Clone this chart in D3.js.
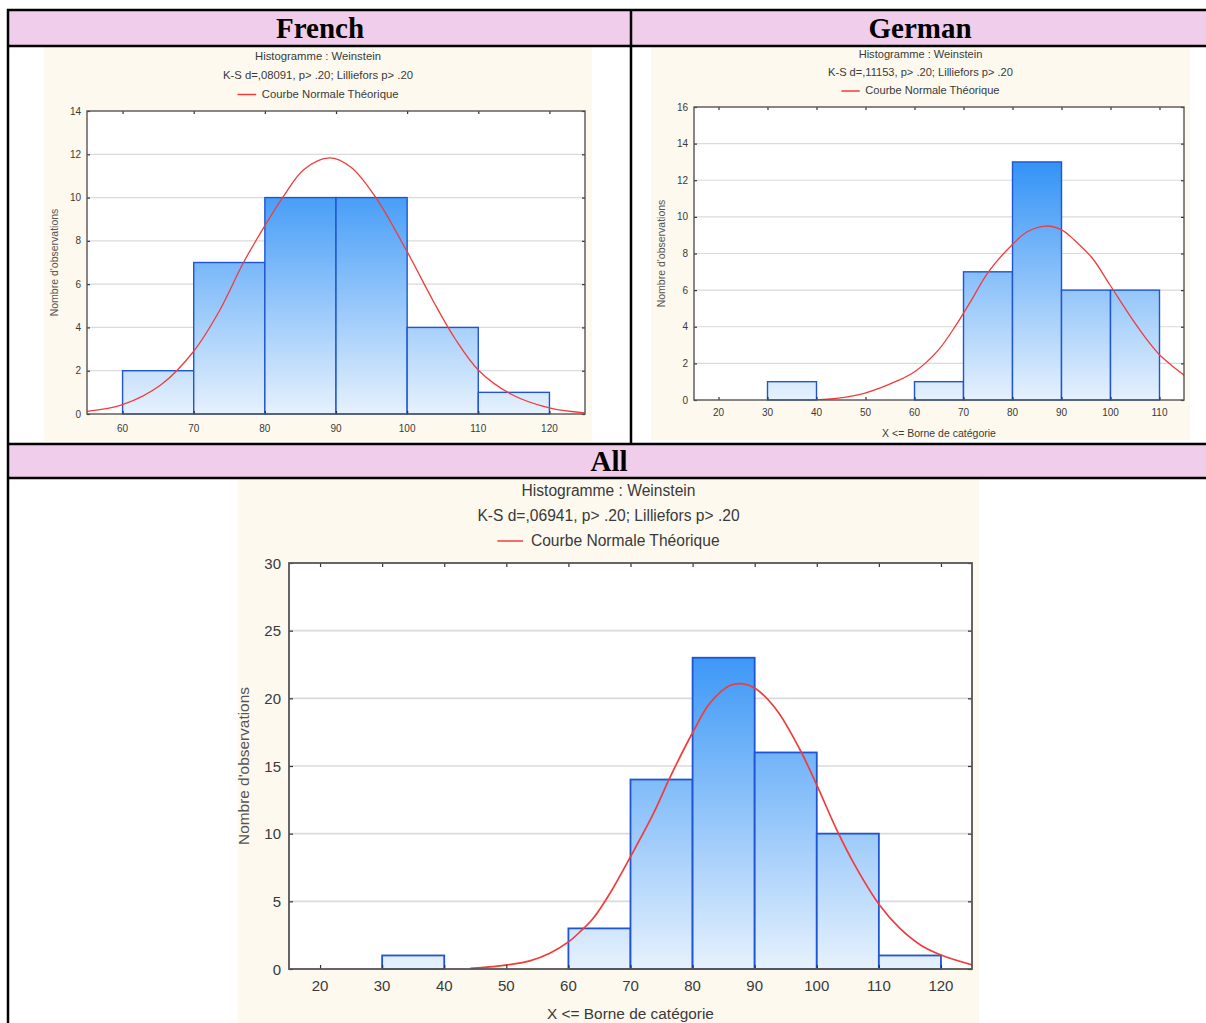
<!DOCTYPE html>
<html><head><meta charset="utf-8">
<script src="https://cdn.jsdelivr.net/npm/d3@7"></script>
<style>html,body{margin:0;padding:0;background:#fff;} svg{display:block}</style>
</head><body>
<script>
// ---------------- DATA ----------------
const binWidth = 10;
const headerLabels = ["French", "German", "All"];
const chartTitle = "Histogramme : Weinstein";
const legendLabel = "Courbe Normale Théorique";
const yAxisLabel = "Nombre d'observations";
const xAxisLabel = "X <= Borne de catégorie";

const frenchKS = "K-S d=,08091, p> .20; Lilliefors p> .20";
const frenchBins = [60, 70, 80, 90, 100, 110];
const frenchCounts = [2, 7, 10, 10, 4, 1];
const frenchXTicks = [60, 70, 80, 90, 100, 110, 120];
const frenchYTicks = [0, 2, 4, 6, 8, 10, 12, 14];
const frenchCurveX = [55, 60, 65.4, 70, 73.5, 77, 80, 82.5, 85.5, 89.1, 92.1, 95.6, 100, 103.7, 106.7, 110.1, 114.7, 120, 125];
const frenchCurveY = [0.12, 0.43, 1.35, 2.9, 4.7, 7.0, 8.7, 10.0, 11.3, 11.83, 11.4, 10.0, 7.5, 5.2, 3.5, 2.0, 0.9, 0.28, 0.05];

const germanKS = "K-S d=,11153, p> .20; Lilliefors p> .20";
const germanBins = [30, 60, 70, 80, 90, 100];
const germanCounts = [1, 1, 7, 13, 6, 6];
const germanXTicks = [20, 30, 40, 50, 60, 70, 80, 90, 100, 110];
const germanYTicks = [0, 2, 4, 6, 8, 10, 12, 14, 16];
const germanCurveX = [39, 44.5, 49.9, 56.1, 60.1, 64.9, 68.5, 71.5, 75.1, 80.2, 83.1, 86.8, 90.1, 92.6, 96.3, 99.9, 104.3, 107.2, 110, 112.3, 115.1];
const germanCurveY = [0, 0.1, 0.38, 1.0, 1.56, 2.74, 4.1, 5.4, 7.0, 8.55, 9.2, 9.5, 9.28, 8.74, 7.74, 6.28, 4.47, 3.38, 2.47, 1.93, 1.34];

const allKS = "K-S d=,06941, p> .20; Lilliefors p> .20";
const allBins = [30, 60, 70, 80, 90, 100, 110];
const allCounts = [1, 3, 14, 23, 16, 10, 1];
const allXTicks = [20, 30, 40, 50, 60, 70, 80, 90, 100, 110, 120];
const allYTicks = [0, 5, 10, 15, 20, 25, 30];
const allCurveX = [44.2, 47.9, 50.1, 53.8, 57, 60, 61.9, 64, 66.7, 70, 73.7, 76.4, 80.1, 82.8, 86.0, 87.9, 90.0, 93.5, 97.3, 100.1, 103.2, 106.4, 110.1, 113.4, 116.7, 120, 125.1];
const allCurveY = [0.05, 0.17, 0.3, 0.6, 1.16, 2.0, 2.76, 3.75, 5.6, 8.3, 11.5, 14.2, 17.55, 19.65, 20.95, 21.08, 20.76, 19.16, 16.2, 13.5, 10.3, 7.45, 4.73, 3.0, 1.78, 1.04, 0.3];

// ---------------- LAYOUT ----------------
const W = 1206, H = 1023;
const svg = d3.select("body").append("svg").attr("width", W).attr("height", H);
const defs = svg.append("defs");

const pink = "#f0cdea";
svg.append("rect").attr("x", 8).attr("y", 10).attr("width", W).attr("height", 36).attr("fill", pink);
svg.append("rect").attr("x", 8).attr("y", 444).attr("width", W).attr("height", 34).attr("fill", pink);

const cream = "#fdf9ee";
const imgs = [
  {x: 44, y: 47, w: 548, h: 394},
  {x: 651, y: 47, w: 539, h: 393},
  {x: 238, y: 479, w: 741, h: 544}
];
imgs.forEach(r => svg.append("rect").attr("x", r.x).attr("y", r.y).attr("width", r.w).attr("height", r.h).attr("fill", cream));

const lines = [
  [7, 10, W, 10], [8, 9, 8, H], [8, 46, W, 46], [631, 10, 631, 444],
  [8, 444, W, 444], [8, 478, W, 478]
];
lines.forEach(l => svg.append("line").attr("x1", l[0]).attr("y1", l[1]).attr("x2", l[2]).attr("y2", l[3])
  .attr("stroke", "#000").attr("stroke-width", 2.5));

const hdrFont = "'Liberation Serif','Times New Roman',serif";
[[320, 38, headerLabels[0]], [920, 38, headerLabels[1]], [609, 471, headerLabels[2]]].forEach(h => {
  svg.append("text").attr("x", h[0]).attr("y", h[1]).attr("text-anchor", "middle")
    .attr("font-family", hdrFont).attr("font-weight", "bold").attr("font-size", 29).attr("fill", "#000").text(h[2]);
});

const sans = "'Liberation Sans',Arial,sans-serif";

function drawChart(c) {
  const g = svg.append("g");
  const x = d3.scaleLinear().domain(c.xDomain).range([c.plot.x0, c.plot.x1]);
  const y = d3.scaleLinear().domain(c.yDomain).range([c.plot.y1, c.plot.y0]);
  const pw = c.plot.x1 - c.plot.x0, ph = c.plot.y1 - c.plot.y0;
  const cx = c.img.x + c.img.w / 2;

  g.append("text").attr("x", cx).attr("y", c.titleY).attr("text-anchor", "middle").attr("dominant-baseline", "central")
    .attr("font-family", sans).attr("font-size", c.fs).attr("fill", "#3a3a3a").text(chartTitle);
  g.append("text").attr("x", cx).attr("y", c.ksY).attr("text-anchor", "middle").attr("dominant-baseline", "central")
    .attr("font-family", sans).attr("font-size", c.fs).attr("fill", "#3a3a3a").text(c.ks);
  const lt = g.append("text").attr("y", c.legY).attr("dominant-baseline", "central")
    .attr("font-family", sans).attr("font-size", c.fs).attr("fill", "#3a3a3a").text(legendLabel);
  const tw = lt.node().getComputedTextLength();
  const lineLen = c.fs * 1.65, gap = c.fs * 0.5;
  const start = cx - (lineLen + gap + tw) / 2;
  lt.attr("x", start + lineLen + gap);
  g.append("line").attr("x1", start).attr("x2", start + lineLen).attr("y1", c.legY + 1).attr("y2", c.legY + 1)
    .attr("stroke", "#f03c3c").attr("stroke-width", 1.5);

  g.append("rect").attr("x", c.plot.x0).attr("y", c.plot.y0).attr("width", pw).attr("height", ph).attr("fill", "#fff");

  g.append("g").selectAll("line").data(c.yTicks.filter(v => v > c.yDomain[0] && v < c.yDomain[1])).join("line")
    .attr("x1", c.plot.x0).attr("x2", c.plot.x1).attr("y1", d => y(d)).attr("y2", d => y(d))
    .attr("stroke", "#dadada").attr("stroke-width", c.fs > 13 ? 1.6 : 1.2);

  const gid = "grad" + c.id;
  const grad = defs.append("linearGradient").attr("id", gid).attr("gradientUnits", "userSpaceOnUse")
    .attr("x1", 0).attr("x2", 0).attr("y1", c.plot.y1).attr("y2", c.plot.y0);
  grad.append("stop").attr("offset", 0).attr("stop-color", "#e6f1fd");
  grad.append("stop").attr("offset", 1).attr("stop-color", "#0a7df5");

  g.append("g").selectAll("rect").data(c.bins.map((b, i) => ({b, n: c.counts[i]}))).join("rect")
    .attr("x", d => x(d.b)).attr("width", d => x(d.b + binWidth) - x(d.b))
    .attr("y", d => y(d.n)).attr("height", d => y(0) - y(d.n))
    .attr("fill", `url(#${gid})`).attr("stroke", "#1f55d2").attr("stroke-width", c.fs > 13 ? 1.8 : 1.4);

  const clipId = "clip" + c.id;
  defs.append("clipPath").attr("id", clipId).append("rect")
    .attr("x", c.plot.x0).attr("y", c.plot.y0 - 2).attr("width", pw).attr("height", ph + 2);
  const pts = c.cx.map((v, i) => [v, c.cy[i]]);
  g.append("path").datum(pts).attr("clip-path", `url(#${clipId})`)
    .attr("d", d3.line().x(d => x(d[0])).y(d => y(d[1])).curve(d3.curveCatmullRom.alpha(0.5)))
    .attr("fill", "none").attr("stroke", "#f03c3c").attr("stroke-width", c.fs > 13 ? 1.7 : 1.3);

  const tk = c.fs > 13 ? 4 : 3;
  const tickCol = "#333";
  const ax = (axis, tx, ty) => {
    const a = g.append("g").attr("transform", `translate(${tx},${ty})`).call(axis);
    a.select(".domain").remove();
    a.selectAll("line").attr("stroke", tickCol).attr("stroke-width", 1.2);
    return a;
  };
  const bottom = ax(d3.axisBottom(x).tickValues(c.xTicks).tickSize(-tk).tickSizeOuter(0).tickPadding(0), 0, c.plot.y1);
  bottom.selectAll("text").remove();
  ax(d3.axisTop(x).tickValues(c.xTicks).tickSize(-tk).tickSizeOuter(0).tickFormat(""), 0, c.plot.y0);
  ax(d3.axisLeft(y).tickValues(c.yTicks).tickSize(-tk).tickSizeOuter(0).tickFormat(""), c.plot.x0, 0);
  ax(d3.axisRight(y).tickValues(c.yTicks).tickSize(-tk).tickSizeOuter(0).tickFormat(""), c.plot.x1, 0);

  g.append("g").selectAll("text").data(c.xTicks).join("text")
    .attr("x", d => x(d)).attr("y", c.plot.y1 + c.xLabOff).attr("text-anchor", "middle").attr("dominant-baseline", "central")
    .attr("font-family", sans).attr("font-size", c.tfs).attr("fill", "#3a3a3a").text(d => d);
  g.append("g").selectAll("text").data(c.yTicks).join("text")
    .attr("x", c.plot.x0 - c.yLabOff).attr("y", d => y(d)).attr("text-anchor", "end").attr("dominant-baseline", "central")
    .attr("font-family", sans).attr("font-size", c.tfs).attr("fill", "#3a3a3a").text(d => d);

  g.append("rect").attr("x", c.plot.x0).attr("y", c.plot.y0).attr("width", pw).attr("height", ph)
    .attr("fill", "none").attr("stroke", "#555").attr("stroke-width", c.fs > 13 ? 1.8 : 1.4);

  g.append("text").attr("transform", `translate(${c.yTitleX},${(c.plot.y0 + c.plot.y1) / 2}) rotate(-90)`)
    .attr("text-anchor", "middle").attr("dominant-baseline", "central")
    .attr("font-family", sans).attr("font-size", c.afs).attr("fill", "#555").text(yAxisLabel);
  if (c.xTitleY) {
    g.append("text").attr("x", (c.plot.x0 + c.plot.x1) / 2).attr("y", c.xTitleY)
      .attr("text-anchor", "middle").attr("dominant-baseline", "central")
      .attr("font-family", sans).attr("font-size", c.afs).attr("fill", "#3a3a3a").text(xAxisLabel);
  }
}

drawChart({
  id: "fr", img: imgs[0], plot: {x0: 87, x1: 585, y0: 111, y1: 414},
  xDomain: [55, 125], yDomain: [0, 14], xTicks: frenchXTicks, yTicks: frenchYTicks,
  bins: frenchBins, counts: frenchCounts, cx: frenchCurveX, cy: frenchCurveY, ks: frenchKS,
  fs: 11.3, tfs: 10, afs: 10.5, titleY: 56, ksY: 75, legY: 93.5,
  xLabOff: 14, yLabOff: 6, yTitleX: 53.5, xTitleY: null
});
drawChart({
  id: "de", img: imgs[1], plot: {x0: 694, x1: 1184, y0: 107, y1: 400},
  xDomain: [15, 115], yDomain: [0, 16], xTicks: germanXTicks, yTicks: germanYTicks,
  bins: germanBins, counts: germanCounts, cx: germanCurveX, cy: germanCurveY, ks: germanKS,
  fs: 11.1, tfs: 10, afs: 10.5, titleY: 54, ksY: 72, legY: 90,
  xLabOff: 12.5, yLabOff: 6, yTitleX: 661, xTitleY: 433
});
drawChart({
  id: "all", img: imgs[2], plot: {x0: 289, x1: 972, y0: 563, y1: 969},
  xDomain: [15, 125], yDomain: [0, 30], xTicks: allXTicks, yTicks: allYTicks,
  bins: allBins, counts: allCounts, cx: allCurveX, cy: allCurveY, ks: allKS,
  fs: 15.6, tfs: 15, afs: 15.4, titleY: 490, ksY: 515, legY: 540,
  xLabOff: 16, yLabOff: 8, yTitleX: 243.5, xTitleY: 1013
});
</script>
</body></html>
